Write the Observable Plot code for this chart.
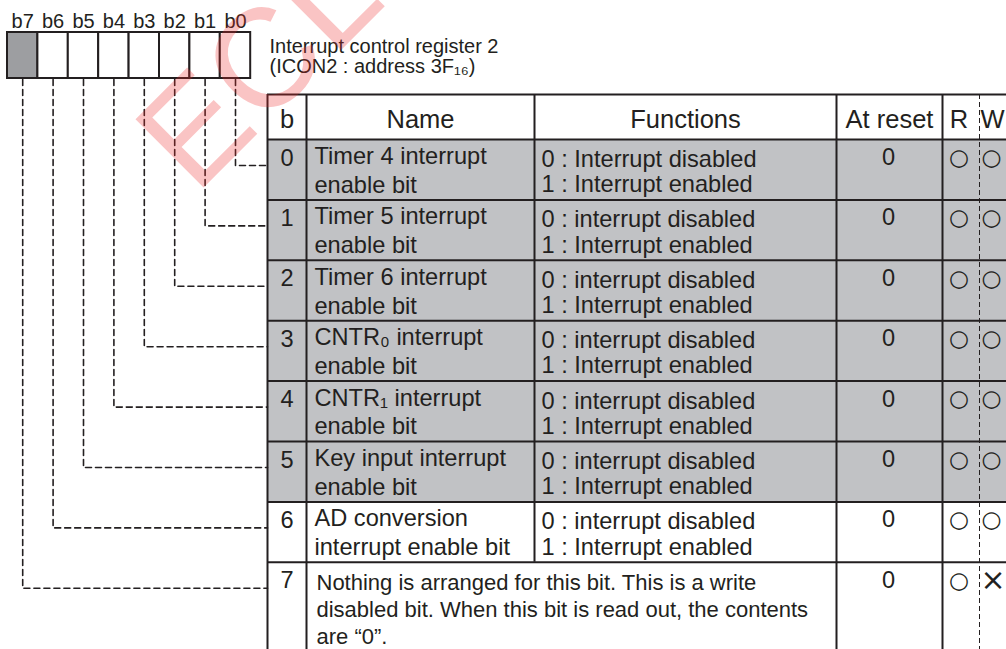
<!DOCTYPE html>
<html>
<head>
<meta charset="utf-8">
<script src="https://cdn.jsdelivr.net/npm/d3@7"></script>
<script src="https://cdn.jsdelivr.net/npm/@observablehq/plot@0.6"></script>
<style>
html, body { margin: 0; padding: 0; background: #fff; overflow: hidden; }
#chart svg { display: block; }
</style>
</head>
<body>
<div id="chart"></div>
<script>
// ---------------- data ----------------
const registerBits = ["b7", "b6", "b5", "b4", "b3", "b2", "b1", "b0"];
const unusedRegisterBits = ["b7"];
const titleLines = ["Interrupt control register 2", "(ICON2 : address 3F₁₆)"];
const headers = ["b", "Name", "Functions", "At reset", "R", "W"];
const bitNumbers = ["0", "1", "2", "3", "4", "5", "6", "7"];
const bitNames = [
  "Timer 4 interrupt\nenable bit",
  "Timer 5 interrupt\nenable bit",
  "Timer 6 interrupt\nenable bit",
  "CNTR₀ interrupt\nenable bit",
  "CNTR₁ interrupt\nenable bit",
  "Key input interrupt\nenable bit",
  "AD conversion\ninterrupt enable bit",
  "Nothing is arranged for this bit. This is a write\ndisabled bit. When this bit is read out, the contents\nare “0”."
];
const bitFunctions = [
  "0 : Interrupt disabled\n1 : Interrupt enabled",
  "0 : interrupt disabled\n1 : Interrupt enabled",
  "0 : interrupt disabled\n1 : Interrupt enabled",
  "0 : interrupt disabled\n1 : Interrupt enabled",
  "0 : interrupt disabled\n1 : Interrupt enabled",
  "0 : interrupt disabled\n1 : Interrupt enabled",
  "0 : interrupt disabled\n1 : Interrupt enabled",
  null
];
const resetValues = ["0", "0", "0", "0", "0", "0", "0", "0"];
const readAccess = ["○", "○", "○", "○", "○", "○", "○", "○"];
const writeAccess = ["○", "○", "○", "○", "○", "○", "○", "×"];
const shadedRows = [true, true, true, true, true, true, false, false];
const watermark = ["ECL"];

// ---------------- styles & layout ----------------
const ink = "#231f20";
const shade = "#c1c2c5";
const regShade = "#9d9ea1";
const font = "'Liberation Sans', Arial, Helvetica, sans-serif";
const symFont = "'DejaVu Sans', sans-serif";

const W = 1006, H = 649;
const reg = {left: 7, top: 32, bottom: 78, cell: 30.4, labelY: 27.5};
const tbl = {left: 267, top: 94, head: 139, rowH: 60.4, lastH: 92, right: 1012};
const col = {b: 267, name: 306, func: 534, reset: 836, r: 942, w: 979, end: 1012};
const bodySize = 23.6, noteSize = 22, headSize = 25.5, titleSize = 20, regSize = 20;

const rowTop = (i) => tbl.head + i * tbl.rowH;
const rowBottom = (i) => (i === 7 ? rowTop(7) + tbl.lastH : rowTop(i + 1));
const regCellX = (i) => reg.left + i * reg.cell;
const bitCenterX = (bit) => regCellX(7 - bit) + reg.cell / 2;

const rows = bitNumbers.map((b, i) => ({
  i, b,
  name: bitNames[i],
  func: bitFunctions[i],
  reset: resetValues[i],
  r: readAccess[i],
  w: writeAccess[i],
  shaded: shadedRows[i]
}));

// text lines
const nameLines = rows.filter((r) => r.func).flatMap((r) =>
  r.name.split("\n").map((t, j) => ({t, x: col.name + 8, y: rowTop(r.i) + 24.5 + j * 28.8}))
);
const noteLines = rows.filter((r) => !r.func).flatMap((r) =>
  r.name.split("\n").map((t, j) => ({t, x: col.name + 10, y: rowTop(r.i) + 27.5 + j * 27.3}))
);
const funcLines = rows.filter((r) => r.func).flatMap((r) =>
  r.func.split("\n").map((t, j) => ({t, x: col.func + 7, y: rowTop(r.i) + 27.5 + j * 25.2}))
);

const headerCenters = [
  (col.b + col.name) / 2,
  (col.name + col.func) / 2,
  (col.func + col.reset) / 2,
  (col.reset + col.r) / 2,
  (col.r + col.w) / 2 - 2,
  992
];

// table lines
const hLines = [tbl.top, ...rows.map((r) => rowTop(r.i))];
const vLines = [
  {x: col.b, y1: tbl.top, y2: H + 10},
  {x: col.name, y1: tbl.top, y2: H + 10},
  {x: col.func, y1: tbl.top, y2: rowTop(7)},
  {x: col.reset, y1: tbl.top, y2: H + 10},
  {x: col.r, y1: tbl.top, y2: H + 10}
];

// connectors from register bits to table rows
const connectors = rows.flatMap((r) => {
  const cx = bitCenterX(r.i);
  const cy = rowTop(r.i) + 26;
  return [
    {bit: r.i, x: cx, y: reg.bottom + 1},
    {bit: r.i, x: cx, y: cy},
    {bit: r.i, x: tbl.left, y: cy}
  ];
});

const chart = Plot.plot({
  width: W,
  height: H,
  margin: 0,
  x: {domain: [0, W], range: [0, W], axis: null},
  y: {domain: [0, H], range: [0, H], axis: null},
  color: {type: "identity"},
  style: {background: "#fff", fontFamily: font},
  marks: [
    // shaded rows
    Plot.rect(rows.filter((r) => r.shaded), {
      x1: () => tbl.left, x2: () => tbl.right,
      y1: (r) => rowTop(r.i), y2: (r) => rowBottom(r.i),
      fill: shade
    }),
    // table grid
    Plot.ruleY(hLines, {y: (d) => d, x1: () => tbl.left, x2: () => tbl.right, stroke: ink, strokeWidth: 2}),
    Plot.ruleX(vLines, {x: "x", y1: "y1", y2: "y2", stroke: ink, strokeWidth: 2}),
    Plot.ruleX([col.w], {x: (d) => d, y1: () => tbl.top, y2: () => H + 10, stroke: ink, strokeWidth: 1, strokeDasharray: "5,3"}),
    // register boxes
    Plot.rect(registerBits, {
      x1: (d, i) => regCellX(i), x2: (d, i) => regCellX(i + 1),
      y1: () => reg.top, y2: () => reg.bottom,
      fill: (d) => (unusedRegisterBits.includes(d) ? regShade : "#fff"),
      stroke: ink, strokeWidth: 2
    }),
    Plot.text(registerBits, {
      x: (d, i) => regCellX(i) + reg.cell / 2, y: () => reg.labelY,
      text: (d) => d, fontSize: regSize, fill: ink, textAnchor: "middle", lineAnchor: "bottom"
    }),
    // dashed connectors
    Plot.line(connectors, {x: "x", y: "y", z: "bit", stroke: ink, strokeWidth: 1.6, strokeDasharray: "6,4"}),
    // title
    Plot.text(titleLines, {
      x: () => 269, y: (d, i) => 52 + i * 20,
      text: (d) => d, fontSize: titleSize, fill: ink, textAnchor: "start", lineAnchor: "bottom"
    }),
    // headers
    Plot.text(headers, {
      x: (d, i) => headerCenters[i], y: () => 127.5,
      text: (d) => d, fontSize: headSize, fill: ink, textAnchor: "middle", lineAnchor: "bottom"
    }),
    // bit numbers
    Plot.text(rows, {
      x: () => (col.b + col.name) / 2, y: (r) => rowTop(r.i) + 26,
      text: "b", fontSize: bodySize, fill: ink, textAnchor: "middle", lineAnchor: "bottom"
    }),
    // names
    Plot.text(nameLines, {
      x: "x", y: "y", text: "t", fontSize: bodySize, fill: ink, textAnchor: "start", lineAnchor: "bottom"
    }),
    // note for bit 7
    Plot.text(noteLines, {
      x: "x", y: "y", text: "t", fontSize: noteSize, fill: ink, textAnchor: "start", lineAnchor: "bottom"
    }),
    // functions
    Plot.text(funcLines, {
      x: "x", y: "y", text: "t", fontSize: bodySize, fill: ink, textAnchor: "start", lineAnchor: "bottom"
    }),
    // at reset
    Plot.text(rows, {
      x: () => (col.reset + col.r) / 2 - 1, y: (r) => rowTop(r.i) + 25.5,
      text: "reset", fontSize: bodySize, fill: ink, textAnchor: "middle", lineAnchor: "bottom"
    }),
    // R / W
    Plot.text(rows, {
      x: () => 958.5, y: (r) => rowTop(r.i) + 18,
      text: "r", fontSize: 23, fontFamily: symFont, fill: ink, textAnchor: "middle", lineAnchor: "middle"
    }),
    Plot.text(rows.filter((r) => r.w === "○"), {
      x: () => 991, y: (r) => rowTop(r.i) + 18,
      text: "w", fontSize: 23, fontFamily: symFont, fill: ink, textAnchor: "middle", lineAnchor: "middle"
    }),
    Plot.text(rows.filter((r) => r.w !== "○"), {
      x: () => 992.5, y: (r) => rowTop(r.i) + 18,
      text: "w", fontSize: 30, fontFamily: symFont, fill: ink, textAnchor: "middle", lineAnchor: "middle"
    }),
    // watermark
    Plot.text(watermark, {
      x: () => 195, y: () => 195, text: (d) => d, rotate: -45,
      fontSize: 140, fill: "#ee2a2a", fillOpacity: 0.28,
      textAnchor: "start", lineAnchor: "bottom"
    })
  ]
});

document.getElementById("chart").appendChild(chart);
</script>
</body>
</html>
